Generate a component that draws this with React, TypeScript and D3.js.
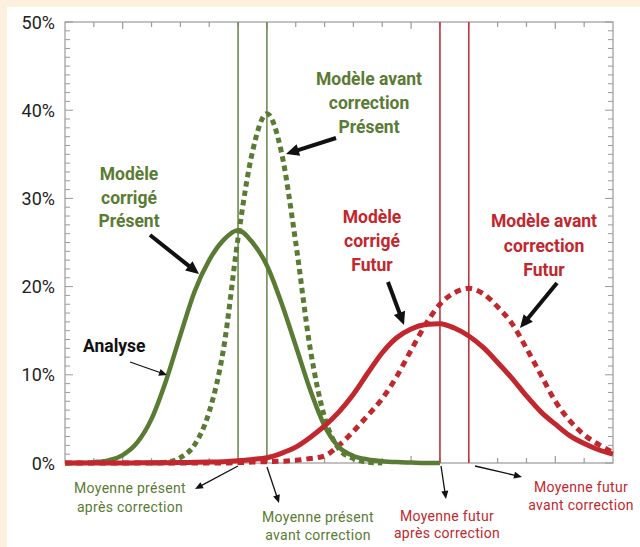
import React from 'react';
import * as d3 from 'd3';

// ---- Data ----
const yTicks = [0, 10, 20, 30, 40, 50];
const yTickLabels = ['0%', '10%', '20%', '30%', '40%', '50%'];

const xGreenCorrige = [0, 0.5, 1, 1.5, 2, 2.5, 3, 3.5, 4, 4.5, 5, 5.5, 6, 6.5, 7, 7.5, 8, 8.5, 9, 9.5, 10, 10.5, 11, 11.5, 12, 12.5, 13];
const greenCorrige = [0, 0, 0.1, 0.3, 0.9, 2.3, 5.0, 9.3, 14.5, 19.5, 23.0, 25.3, 26.4, 25.0, 22.4, 18.2, 13.3, 8.3, 4.2, 1.8, 0.8, 0.4, 0.2, 0.1, 0.05, 0, 0];

const xGreenAvant = [3, 3.5, 4, 4.5, 5, 5.5, 6, 6.5, 7, 7.5, 8, 8.5, 9, 9.5, 10, 10.5, 11];
const greenAvant = [0, 0.1, 0.6, 2.1, 5.8, 13.0, 25.5, 35.3, 39.6, 35.3, 25.0, 13.0, 5.2, 1.6, 0.5, 0.1, 0];

const xRed = [0, 0.5, 1, 1.5, 2, 2.5, 3, 3.5, 4, 4.5, 5, 5.5, 6, 6.5, 7, 7.5, 8, 8.5, 9, 9.5, 10, 10.5, 11, 11.5, 12, 12.5, 13, 13.5, 14, 14.5, 15, 15.5, 16, 16.5, 17, 17.5, 18, 18.5, 19];
const redCorrige = [0, 0, 0, 0, 0, 0.02, 0.03, 0.04, 0.05, 0.08, 0.1, 0.15, 0.25, 0.4, 0.6, 1.1, 1.8, 2.9, 4.2, 5.8, 7.8, 10.2, 12.5, 14.2, 15.2, 15.7, 15.8, 15.3, 14.4, 13.1, 11.4, 9.6, 7.6, 5.8, 4.4, 3.1, 2.2, 1.5, 1.0];
const redAvant = [0, 0, 0, 0, 0, 0, 0, 0, 0, 0, 0, 0, 0.05, 0.1, 0.15, 0.2, 0.3, 0.5, 0.8, 2.0, 3.6, 5.4, 7.3, 9.8, 12.8, 15.7, 18.0, 19.3, 19.8, 19.2, 17.7, 15.8, 13.0, 10.0, 7.0, 4.8, 3.2, 2.1, 1.2];

const meansPresent = [6, 7];
const meansFutur = [13, 14];
const xTickValues = [1, 2, 3, 4, 5, 6, 7, 8, 9, 10, 11, 12, 13, 14, 15, 16, 17, 18];

const GREEN = '#5a7b34';
const RED = '#c1272d';
const GREEN_LINE = '#6e8c50';
const RED_LINE = '#b9373d';
const AXIS = '#9a9a9a';
const FONT = 'Roboto, "Open Sans", sans-serif';

const W = 640;
const H = 547;

type Arrow = { x1: number; y1: number; x2: number; y2: number; thick: boolean };

function ArrowShape({ a }: { a: Arrow }) {
  const dx = a.x2 - a.x1;
  const dy = a.y2 - a.y1;
  const len = Math.sqrt(dx * dx + dy * dy);
  const ux = dx / len;
  const uy = dy / len;
  const hl = a.thick ? 13 : 8;
  const hw = a.thick ? 6 : 3.5;
  const bx = a.x2 - ux * hl;
  const by = a.y2 - uy * hl;
  const px = -uy;
  const py = ux;
  const pts = `${a.x2},${a.y2} ${bx + px * hw},${by + py * hw} ${bx - px * hw},${by - py * hw}`;
  return (
    <g>
      <line x1={a.x1} y1={a.y1} x2={bx + ux * 2} y2={by + uy * 2} stroke="#111" strokeWidth={a.thick ? 4 : 1.3} />
      <polygon points={pts} fill="#111" />
    </g>
  );
}

export default function App() {
  const x = d3.scaleLinear().domain([0, 19]).range([65, 613]);
  const y = d3.scaleLinear().domain([0, 50]).range([463, 22]);

  const mk = (xs: number[], ys: number[]) =>
    d3
      .line<number>()
      .x((_, i) => x(xs[i]))
      .y((d) => y(d))
      .curve(d3.curveMonotoneX)(ys) as string;

  const minorY = d3.range(0, 51, 1);

  const arrows: Arrow[] = [
    { x1: 336, y1: 138, x2: 286, y2: 154, thick: true },
    { x1: 150, y1: 235, x2: 199, y2: 274, thick: true },
    { x1: 388, y1: 282, x2: 404, y2: 325, thick: true },
    { x1: 557, y1: 283, x2: 520, y2: 328, thick: true },
    { x1: 130, y1: 362, x2: 167, y2: 375, thick: false },
    { x1: 238, y1: 466, x2: 195, y2: 489, thick: false },
    { x1: 267, y1: 467, x2: 279, y2: 503, thick: false },
    { x1: 441, y1: 466, x2: 446, y2: 499, thick: false },
    { x1: 475, y1: 466, x2: 522, y2: 477, thick: false },
  ];

  const titleStyle = { fontFamily: FONT, fontWeight: 700, fontSize: 17.5 } as const;
  const smallStyle = { fontFamily: FONT, fontWeight: 400, fontSize: 14, letterSpacing: 0.3 } as const;

  return (
    <svg width={W} height={H} style={{ position: 'absolute', left: 0, top: 0, display: 'block' }}>
      <rect x={0} y={0} width={W} height={H} fill="#fdf0dc" />
      <rect x={7} y={7} width={W - 7} height={H - 7} fill="#ffffff" />

      {/* frame */}
      <rect x={x(0)} y={y(50)} width={x(19) - x(0)} height={y(0) - y(50)} fill="none" stroke={AXIS} strokeWidth={1.2} />

      {/* y ticks left & right */}
      {minorY.map((v) => {
        const major = v % 10 === 0;
        const l = major ? 8 : 5;
        return (
          <g key={'yt' + v}>
            <line x1={x(0)} x2={x(0) + l} y1={y(v)} y2={y(v)} stroke={AXIS} strokeWidth={1} />
            <line x1={x(19)} x2={x(19) - l} y1={y(v)} y2={y(v)} stroke={AXIS} strokeWidth={1} />
          </g>
        );
      })}
      {/* x ticks top & bottom */}
      {xTickValues.map((v) => {
        const l = v % 5 === 2 ? 7 : 5;
        return (
          <g key={'xt' + v}>
            <line x1={x(v)} x2={x(v)} y1={y(50)} y2={y(50) + l} stroke={AXIS} strokeWidth={1.2} />
            <line x1={x(v)} x2={x(v)} y1={y(0)} y2={y(0) - l} stroke={AXIS} strokeWidth={1.2} />
          </g>
        );
      })}

      {/* y labels */}
      {yTicks.map((v, i) => (
        <text key={'yl' + v} x={55} y={y(v) + 6.5} textAnchor="end" fill="#222" style={{ fontFamily: FONT, fontSize: 18 }}>
          {yTickLabels[i]}
        </text>
      ))}

      {/* mean lines */}
      {meansPresent.map((m) => (
        <line key={'mp' + m} x1={x(m)} x2={x(m)} y1={y(50)} y2={y(0)} stroke={GREEN_LINE} strokeWidth={1.6} />
      ))}
      {meansFutur.map((m) => (
        <line key={'mf' + m} x1={x(m)} x2={x(m)} y1={y(50)} y2={y(0)} stroke={RED_LINE} strokeWidth={1.6} />
      ))}

      {/* curves */}
      <path d={mk(xRed, redAvant)} fill="none" stroke={RED} strokeWidth={5} strokeDasharray="6.5 5" />
      <path d={mk(xGreenAvant, greenAvant)} fill="none" stroke={GREEN} strokeWidth={5} strokeDasharray="5.5 4" />
      <path d={mk(xGreenCorrige, greenCorrige)} fill="none" stroke={GREEN} strokeWidth={4.5} />
      <path d={mk(xRed, redCorrige)} fill="none" stroke={RED} strokeWidth={5} />

      {/* arrows */}
      {arrows.map((a, i) => (
        <ArrowShape key={'a' + i} a={a} />
      ))}

      {/* annotations */}
      <g fill={GREEN} style={titleStyle} textAnchor="middle">
        <text x={369} y={85}>Modèle avant</text>
        <text x={369} y={109}>correction</text>
        <text x={369} y={133}>Présent</text>
        <text x={129} y={180}>Modèle</text>
        <text x={129} y={204}>corrigé</text>
        <text x={129} y={227}>Présent</text>
      </g>
      <g fill={RED} style={titleStyle} textAnchor="middle">
        <text x={372} y={223}>Modèle</text>
        <text x={372} y={247}>corrigé</text>
        <text x={372} y={271}>Futur</text>
        <text x={544} y={227}>Modèle avant</text>
        <text x={544} y={252}>correction</text>
        <text x={544} y={276}>Futur</text>
      </g>
      <text x={83} y={352} fill="#111" style={titleStyle}>Analyse</text>

      <g fill={GREEN} style={smallStyle} textAnchor="middle">
        <text x={130} y={493}>Moyenne présent</text>
        <text x={130} y={512}>après correction</text>
        <text x={318} y={522}>Moyenne présent</text>
        <text x={318} y={540}>avant correction</text>
      </g>
      <g fill={RED} style={smallStyle} textAnchor="middle">
        <text x={447} y={521}>Moyenne futur</text>
        <text x={447} y={538}>après correction</text>
        <text x={581} y={492}>Moyenne futur</text>
        <text x={581} y={510}>avant correction</text>
      </g>
    </svg>
  );
}
